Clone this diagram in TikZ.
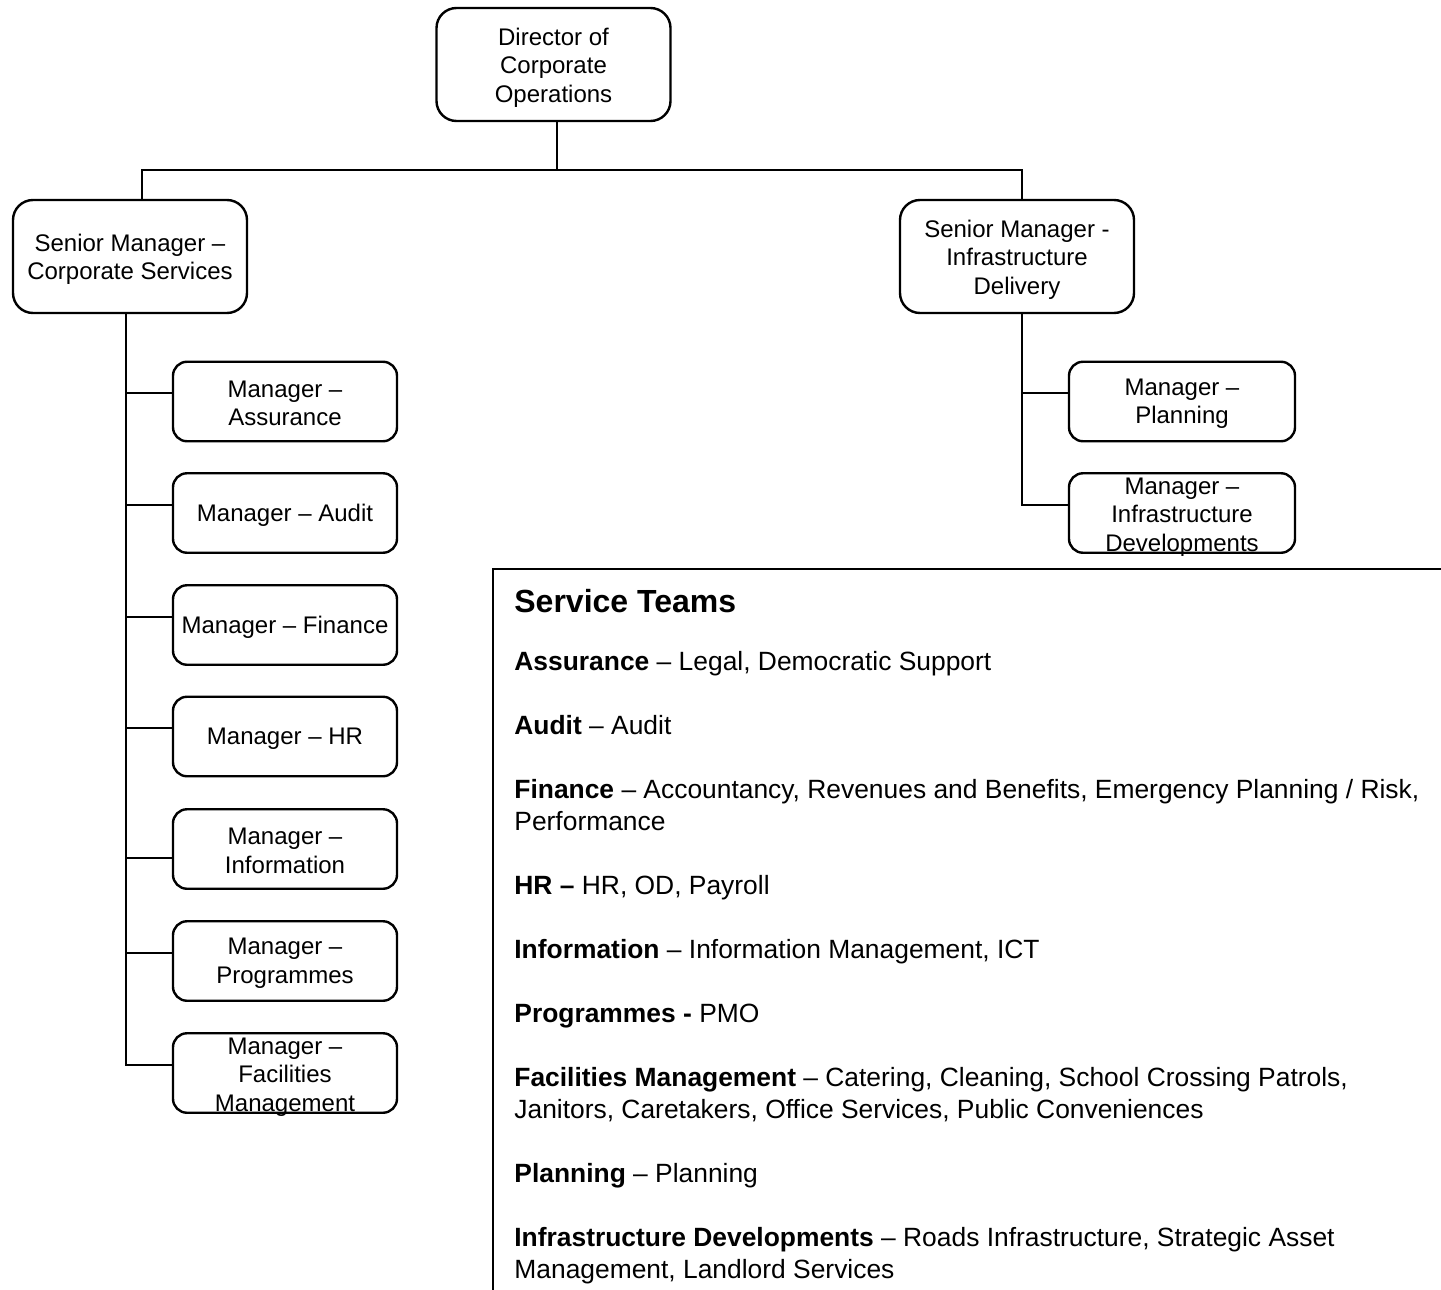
\documentclass[tikz,border=0pt]{standalone}
\usepackage{fontspec}
\setmainfont{Liberation Sans}
\begin{document}
\begin{tikzpicture}[x=0.5pt,y=-0.5pt,
  bigbox/.style={draw,line width=1.2pt,rounded corners=10pt,minimum width=117pt,minimum height=56.5pt,inner sep=0pt},
  mgrbox/.style={draw,line width=1.2pt,rounded corners=7pt,minimum width=112pt,minimum height=39.75pt,inner sep=0pt},
  boxtext/.style={align=center,font=\fontsize{12}{14.25}\selectfont,inner sep=0pt,yshift=-1pt},
  conn/.style={line width=1pt},
  frame/.style={line width=1pt},
  svchead/.style={anchor=base west,inner sep=0pt,font=\fontsize{16}{19}\selectfont\bfseries},
  svctext/.style={anchor=base west,inner sep=0pt,align=left,font=\fontsize{13.2}{16}\selectfont}]
\useasboundingbox (0,0) rectangle (1441,1290);

% top level
\node[bigbox] (dir) at (553.5,64.5) {};
\node[boxtext,yshift=-0.5pt] (dirt) at (dir) {Director of\\Corporate\\Operations};

\node[bigbox] (scs) at (130,256.5) {};
\node[boxtext,yshift=-0.5pt] (scst) at (scs) {Senior Manager –\\Corporate Services};

\node[bigbox] (sid) at (1017,256.5) {};
\node[boxtext,yshift=-0.5pt] (sidt) at (sid) {Senior Manager -\\Infrastructure\\Delivery};

% left managers
\node[mgrbox] (ma) at (285,401.5) {};
\node[boxtext] (mat) at (ma) {Manager –\\Assurance};
\node[mgrbox] (mau) at (285,513) {};
\node[boxtext] (maut) at (mau) {Manager – Audit};
\node[mgrbox] (mf) at (285,625) {};
\node[boxtext] (mft) at (mf) {Manager – Finance};
\node[mgrbox] (mh) at (285,736.5) {};
\node[boxtext] (mht) at (mh) {Manager – HR};
\node[mgrbox] (mi) at (285,849) {};
\node[boxtext] (mit) at (mi) {Manager –\\Information};
\node[mgrbox] (mp) at (285,961) {};
\node[boxtext] (mpt) at (mp) {Manager –\\Programmes};
\node[mgrbox] (mfm) at (285,1073) {};
\node[boxtext,yshift=-1pt] (mfmt) at (mfm) {Manager –\\Facilities\\Management};

% right managers
\node[mgrbox,minimum width=113pt] (mpl) at (1182,401.5) {};
\node[boxtext] (mplt) at (mpl) {Manager –\\Planning};
\node[mgrbox,minimum width=113pt] (mid) at (1182,513) {};
\node[boxtext,yshift=-1pt] (midt) at (mid) {Manager –\\Infrastructure\\Developments};

% connectors top
\coordinate (jm) at (557,170);
\coordinate (jl) at (142,170);
\coordinate (jr) at (1022,170);
\draw[conn] (dir.south -| jm) -- (jm);
\draw[conn] (scs.north -| jl) -- (jl) -- (jr) -- (sid.north -| jr);

% left trunk
\coordinate (tl) at (126,1065);
\draw[conn] (scs.south -| tl) -- (tl) -- (mfm.west |- tl);
\coordinate (b1) at (126,393);
\coordinate (b2) at (126,505);
\coordinate (b3) at (126,617);
\coordinate (b4) at (126,728);
\coordinate (b5) at (126,858);
\coordinate (b6) at (126,953);
\draw[conn] (b1) -- (ma.west |- b1);
\draw[conn] (b2) -- (mau.west |- b2);
\draw[conn] (b3) -- (mf.west |- b3);
\draw[conn] (b4) -- (mh.west |- b4);
\draw[conn] (b5) -- (mi.west |- b5);
\draw[conn] (b6) -- (mp.west |- b6);

% right trunk
\coordinate (tr) at (1022,505);
\coordinate (r1) at (1022,393);
\draw[conn] (sid.south -| tr) -- (tr) -- (mid.west |- tr);
\draw[conn] (r1) -- (mpl.west |- r1);

% service teams frame
\draw[frame] (1442,569) -- (493,569) -- (493,1292);
\node[svchead] (sth) at (514,612) {Service Teams};
\node[svctext] (s1) at (514,670) {\textbf{Assurance} – Legal, Democratic Support};
\node[svctext] (s2) at (514,734) {\textbf{Audit} – Audit};
\node[svctext] (s3) at (514,830) {\textbf{Finance} – Accountancy, Revenues and Benefits, Emergency Planning / Risk,\\Performance};
\node[svctext] (s4) at (514,894) {\textbf{HR –} HR, OD, Payroll};
\node[svctext] (s5) at (514,958) {\textbf{Information} – Information Management, ICT};
\node[svctext] (s6) at (514,1022) {\textbf{Programmes -} PMO};
\node[svctext] (s7) at (514,1118) {\textbf{Facilities Management} – Catering, Cleaning, School Crossing Patrols,\\Janitors, Caretakers, Office Services, Public Conveniences};
\node[svctext] (s8) at (514,1182) {\textbf{Planning} – Planning};
\node[svctext] (s9) at (514,1278) {\textbf{Infrastructure Developments} – Roads Infrastructure, Strategic Asset\\Management, Landlord Services};
\end{tikzpicture}
\end{document}
